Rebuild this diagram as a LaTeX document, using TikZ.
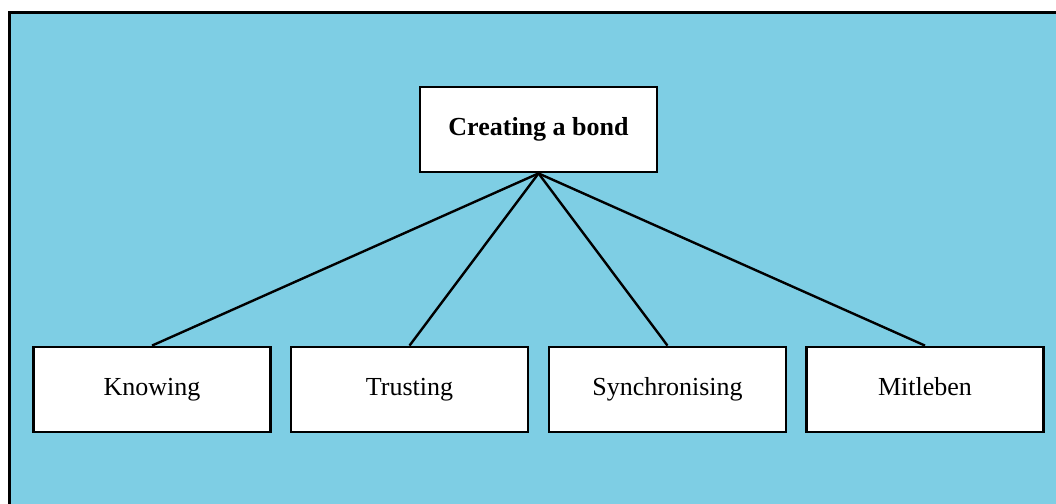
\documentclass[tikz,border=0pt]{standalone}
\usepackage{fontspec}
\setmainfont{Liberation Serif}
\definecolor{skyfill}{RGB}{126,206,228}
\begin{document}
\begin{tikzpicture}[x=1pt,y=-1pt,
  box/.style={draw=black, line width=2.8pt, fill=white, minimum width=237pt,
    minimum height=85pt, inner sep=0pt, text height=18pt, text depth=6pt,
    font=\fontsize{26}{30}\selectfont},
  link/.style={draw=black, line width=2.4pt}]
  \useasboundingbox (0,0) rectangle (1056,503);
  \fill[white] (0,0) rectangle (1056,503);
  \fill[skyfill] (9.5,12.5) rectangle (1060,510);
  \draw[line width=3pt] (9.5,510) -- (9.5,12.5) -- (1060,12.5);

  \node[box, font=\bfseries\fontsize{26}{30}\selectfont] (bond) at (538.5,129.5) {Creating a bond};
  \node[box] (know) at (152,389.5) {Knowing};
  \node[box] (trust) at (409.5,389.5) {Trusting};
  \node[box] (sync) at (667.5,389.5) {Synchronising};
  \node[box] (mit) at (925,389.5) {Mitleben};

  \draw[link] (bond.south) -- (know.north);
  \draw[link] (bond.south) -- (trust.north);
  \draw[link] (bond.south) -- (sync.north);
  \draw[link] (bond.south) -- (mit.north);
\end{tikzpicture}
\end{document}
